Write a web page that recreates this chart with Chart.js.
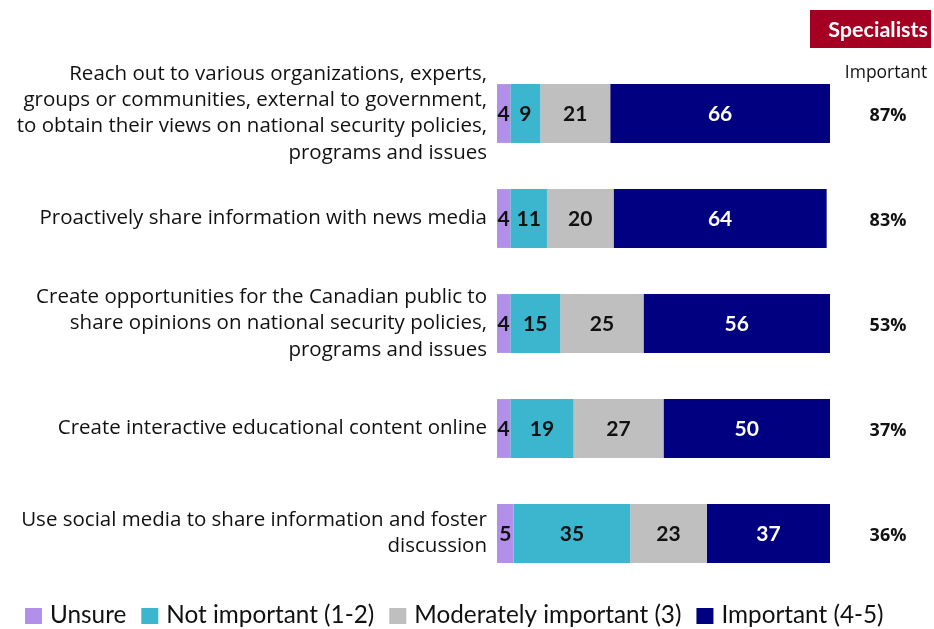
<!DOCTYPE html>
<html>
<head>
<meta charset="utf-8">
<script src="https://cdn.jsdelivr.net/npm/chart.js@4"></script>
<style>
  html, body { margin: 0; padding: 0; background: #fff; }
  #wrap { width: 934px; height: 629px; position: relative; }
</style>
</head>
<body>
<div id="wrap"><canvas id="c" width="934" height="629"></canvas></div>
<script>
// Survey items (multi-line labels)
const categories = [
  ["Reach out to various organizations, experts,", "groups or communities, external to government,", "to obtain their views on national security policies,", "programs and issues"],
  ["Proactively share information with news media"],
  ["Create opportunities for the Canadian public to", "share opinions on national security policies,", "programs and issues"],
  ["Create interactive educational content online"],
  ["Use social media to share information and foster", "discussion"]
];
const unsure = [4, 4, 4, 4, 5];
const notImportant = [9, 11, 15, 19, 35];
const moderatelyImportant = [21, 20, 25, 27, 23];
const important = [66, 64, 56, 50, 37];
const importantShare = ["87%", "83%", "53%", "37%", "36%"];
const seriesNames = ["Unsure", "Not important (1-2)", "Moderately important (3)", "Important (4-5)"];
const groupTitle = "Specialists";
const columnTitle = "Important";

const COLORS = ["#B28FE8", "#3CB6CE", "#BFBFBF", "#000080"];
const LABEL_COLORS = ["#111", "#111", "#111", "#fff"];

// Values written in the middle of each segment
const segmentLabels = {
  id: "segmentLabels",
  afterDatasetsDraw(chart) {
    const ctx = chart.ctx;
    ctx.save();
    ctx.font = "bold 21px Lato, 'Open Sans', sans-serif";
    ctx.textAlign = "center";
    ctx.textBaseline = "middle";
    chart.data.datasets.forEach((ds, di) => {
      const meta = chart.getDatasetMeta(di);
      meta.data.forEach((bar, i) => {
        const cx = (bar.x + bar.base) / 2;
        ctx.fillStyle = LABEL_COLORS[di];
        ctx.fillText(String(ds.data[i]), cx, bar.y + 1);
      });
    });
    ctx.restore();
  }
};

// Right-hand "Important" column, group header and bottom legend
const sideColumn = {
  id: "sideColumn",
  afterDraw(chart) {
    const ctx = chart.ctx;
    const colX = 888;
    ctx.save();
    // header box
    ctx.fillStyle = "#A50021";
    ctx.fillRect(810, 10, 121, 38);
    ctx.fillStyle = "#fff";
    ctx.font = "bold 21.5px Lato, 'Open Sans', sans-serif";
    ctx.textAlign = "right";
    ctx.textBaseline = "middle";
    ctx.fillText(groupTitle, 928, 30);
    // column title
    ctx.fillStyle = "#111";
    ctx.font = "17.5px 'Open Sans', sans-serif";
    ctx.textAlign = "center";
    ctx.fillText(columnTitle, 886, 73);
    // values
    ctx.font = "bold 18px 'Open Sans', sans-serif";
    const meta = chart.getDatasetMeta(0);
    meta.data.forEach((bar, i) => {
      ctx.fillText(importantShare[i], colX, bar.y + 2);
    });

    // legend row
    ctx.font = "24.3px Lato, 'Open Sans', sans-serif";
    ctx.textAlign = "left";
    ctx.textBaseline = "alphabetic";
    let x = 25;
    const baseY = 623;
    chart.data.datasets.forEach((ds) => {
      ctx.fillStyle = ds.backgroundColor;
      ctx.fillRect(x, 608, 17, 16);
      x += 25;
      ctx.fillStyle = "#111";
      ctx.fillText(ds.label, x, baseY);
      x += ctx.measureText(ds.label).width + 15;
    });
    ctx.restore();
  }
};

const datasets = [unsure, notImportant, moderatelyImportant, important].map((d, i) => ({
  label: seriesNames[i],
  data: d,
  backgroundColor: COLORS[i],
  borderWidth: 0,
  barPercentage: 0.56,
  categoryPercentage: 1.0
}));

new Chart(document.getElementById("c"), {
  type: "bar",
  data: { labels: categories, datasets },
  options: {
    indexAxis: "y",
    responsive: false,
    animation: false,
    layout: { padding: { top: 61, right: 104, left: 0, bottom: 43 } },
    scales: {
      x: {
        stacked: true,
        min: 0,
        max: 100,
        display: false
      },
      y: {
        stacked: true,
        grid: { display: false, drawTicks: false },
        border: { display: false },
        ticks: {
          autoSkip: false,
          color: "#111",
          padding: 10,
          font: { family: "'Open Sans', sans-serif", size: 20.5, lineHeight: 1.28 }
        },
        afterFit(scale) {
          scale.width = 497;
          scale.paddingTop = 0;
          scale.paddingBottom = 0;
        }
      }
    },
    plugins: {
      legend: { display: false },
      tooltip: { enabled: false }
    }
  },
  plugins: [segmentLabels, sideColumn]
});
</script>
</body>
</html>
